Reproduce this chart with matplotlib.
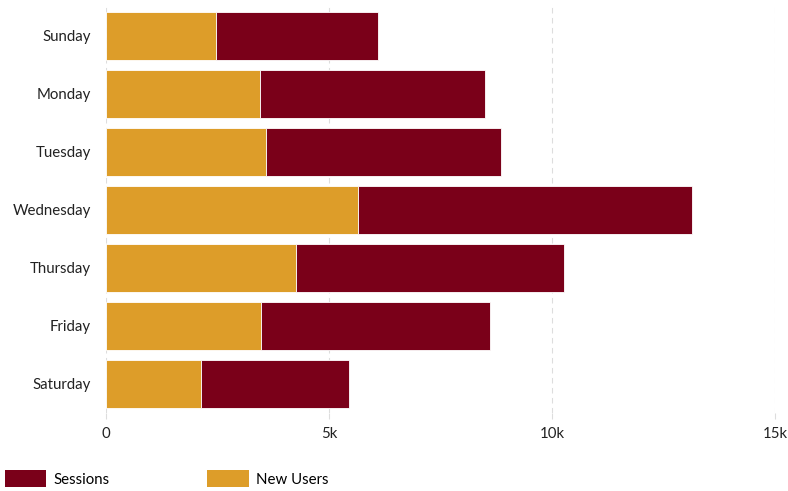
import matplotlib
matplotlib.use("Agg")
import matplotlib.pyplot as plt
from matplotlib.patches import Patch
from matplotlib.ticker import FuncFormatter

plt.rcParams['font.family'] = ['Lato', 'DejaVu Sans']

days = ['Sunday', 'Monday', 'Tuesday', 'Wednesday', 'Thursday', 'Friday', 'Saturday']
new_users = [2470, 3450, 3590, 5650, 4260, 3480, 2130]
sessions = [3630, 5050, 5270, 7490, 6010, 5130, 3320]

orange = '#DD9D29'
maroon = '#7A0019'

fig = plt.figure(figsize=(7.88, 4.91), dpi=100)
ax = fig.add_axes([0.1345, 0.159, 0.849, 0.827])

ax.barh(days, new_users, height=0.83, color=orange, edgecolor='white', linewidth=0.6, zorder=3)
ax.barh(days, sessions, left=new_users, height=0.83, color=maroon, edgecolor='white', linewidth=0.6, zorder=3)

ax.set_ylim(6.5, -0.5)
ax.set_xlim(0, 15000)
ax.set_xticks([0, 5000, 10000, 15000])
ax.xaxis.set_major_formatter(FuncFormatter(lambda v, p: '0' if v == 0 else f'{int(v/1000)}k'))
ax.grid(axis='x', color='#dddddd', linestyle=(0, (5, 4)), linewidth=0.8, zorder=0)
for s in ax.spines.values():
    s.set_visible(False)
ax.tick_params(axis='y', length=0, pad=11, labelsize=10.8, labelcolor='#222222')
ax.tick_params(axis='x', length=4, color='#dddddd', pad=6, labelsize=10.8, labelcolor='#222222')

handles = [Patch(facecolor=maroon, label='Sessions'), Patch(facecolor=orange, label='New Users')]
fig.legend(handles=handles, loc='lower left', bbox_to_anchor=(0.0, -0.002), ncol=2, frameon=False,
           fontsize=10.8, handlelength=2.8, handleheight=1.45, handletextpad=0.45,
           columnspacing=6.5, borderaxespad=0.2, borderpad=0.1)

fig.savefig('out.png', dpi=100)
